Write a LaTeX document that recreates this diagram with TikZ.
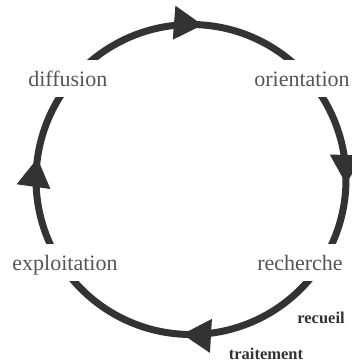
\documentclass[tikz,border=0pt]{standalone}
\usepackage{fontspec}
\setmainfont{Liberation Serif}
\usetikzlibrary{arrows.meta, decorations.markings}
\definecolor{cycledark}{HTML}{333333}
\definecolor{labelgray}{HTML}{555555}
\tikzset{
  cyclearc/.style={draw=cycledark, line width=7pt, postaction={decorate},
    decoration={markings, mark=at position #1 with
      {\arrow[color=cycledark]{Triangle[length=29pt, width=32pt]}}}},
  phaselabel/.style={fill=white, text=labelgray, anchor=base,
    font=\fontsize{22}{26}\selectfont, text height=19pt, text depth=2pt,
    inner ysep=8pt, inner xsep=2pt},
  notelabel/.style={text=cycledark, anchor=base, inner sep=0pt,
    font=\bfseries\fontsize{16.5}{20}\selectfont}
}
\begin{document}
\begin{tikzpicture}[x=1pt, y=1pt]
        \useasboundingbox (0,0) rectangle (352,364);
        \coordinate (c) at (191,184.5);

        % the four arcs of the cycle, clockwise
        \draw[cyclearc=0.545] ([shift={(139.3:155pt)}]c) arc[start angle=139.3, end angle=40.7, radius=155pt];
        \draw[cyclearc=0.578] ([shift={(40.7:155pt)}]c) arc[start angle=40.7, end angle=-32.6, radius=155pt];
        \draw[cyclearc=0.529] ([shift={(-32.6:155pt)}]c) arc[start angle=-32.6, end angle=-147.4, radius=155pt];
        \draw[cyclearc=0.554] ([shift={(212.6:155pt)}]c) arc[start angle=212.6, end angle=139.3, radius=155pt];

        % phases
        \node[phaselabel] (diffusion) at (67.8,277.3) {diffusion};
        \node[phaselabel] (orientation) at (302,277.3) {orientation};
        \node[phaselabel] (exploitation) at (65,93) {exploitation};
        \node[phaselabel] (recherche) at (300,93) {recherche};

        \node[notelabel] (recueil) at (321,40) {recueil};
        \node[notelabel] (traitement) at (266,4.7) {traitement};
    \end{tikzpicture}
\end{document}
